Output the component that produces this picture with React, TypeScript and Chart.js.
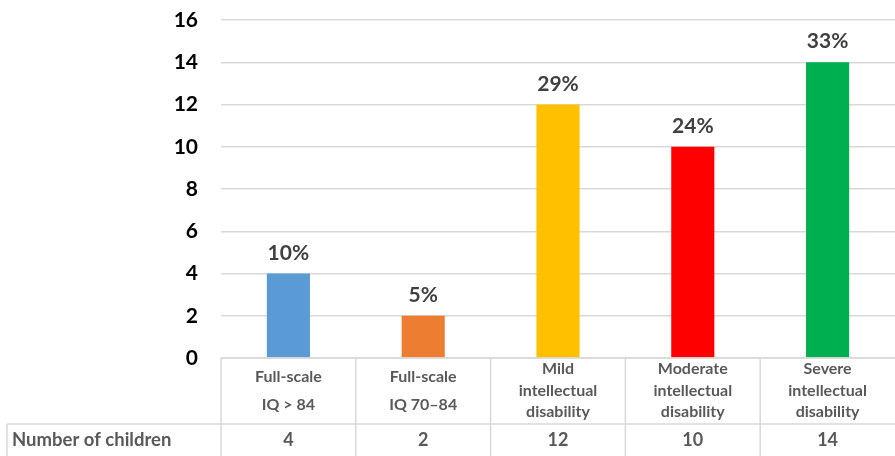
import React, { useEffect, useRef } from "react";
import { Chart, registerables } from "chart.js";

Chart.register(...registerables);

const categories: string[][] = [
  ["Full-scale", "IQ > 84"],
  ["Full-scale", "IQ 70–84"],
  ["Mild", "intellectual", "disability"],
  ["Moderate", "intellectual", "disability"],
  ["Severe", "intellectual", "disability"],
];
const counts: number[] = [4, 2, 12, 10, 14];
const percentLabels: string[] = ["10%", "5%", "29%", "24%", "33%"];
const barColors: string[] = ["#5B9BD5", "#ED7D31", "#FFC000", "#FF0000", "#00B050"];
const rowTitle = "Number of children";
const yTicks: number[] = [0, 2, 4, 6, 8, 10, 12, 14, 16];

const FONT = "Lato, 'Open Sans', sans-serif";

const tablePlugin = {
  id: "tablePlugin",
  afterDatasetsDraw(chart: any) {
    const ctx = chart.ctx;
    const area = chart.chartArea;
    const meta = chart.getDatasetMeta(0);
    // data labels
    ctx.save();
    ctx.fillStyle = "#404040";
    ctx.font = `bold 21px ${FONT}`;
    ctx.textAlign = "center";
    ctx.textBaseline = "alphabetic";
    meta.data.forEach((bar: any, i: number) => {
      ctx.fillText(percentLabels[i], bar.x, bar.y - 14);
    });
    ctx.restore();

    // table
    const xs = chart.scales.x;
    const n = categories.length;
    const catW = (area.right - area.left) / n;
    const top = area.bottom;
    const midY = top + 66;
    const bottom = chart.height;
    ctx.save();
    ctx.strokeStyle = "#D9D9D9";
    ctx.lineWidth = 1.5;
    ctx.beginPath();
    ctx.moveTo(area.left, top);
    ctx.lineTo(area.right, top);
    ctx.moveTo(7, midY);
    ctx.lineTo(area.right, midY);
    ctx.moveTo(7, midY);
    ctx.lineTo(7, bottom);
    for (let i = 0; i < n; i++) {
      const x = area.left + i * catW;
      ctx.moveTo(x, top);
      ctx.lineTo(x, bottom);
    }
    ctx.stroke();

    ctx.fillStyle = "#595959";
    ctx.textAlign = "center";
    ctx.textBaseline = "middle";
    categories.forEach((lines, i) => {
      const cx = xs.getPixelForValue(i);
      const offsets = lines.length === 3 ? [11, 33, 54] : [19, 47];
      ctx.font = `bold 16px ${FONT}`;
      lines.forEach((l, j) => ctx.fillText(l, cx, top + offsets[j]));
      ctx.font = `bold 18px ${FONT}`;
      ctx.fillText(String(counts[i]), cx, midY + 16);
    });
    ctx.textAlign = "left";
    ctx.font = `bold 18.5px ${FONT}`;
    ctx.fillText(rowTitle, 12, midY + 16);
    ctx.restore();
  },
};

export default function App() {
  const ref = useRef<HTMLCanvasElement>(null);
  useEffect(() => {
    document.body.style.margin = "0";
    const chart = new Chart(ref.current!, {
      type: "bar",
      data: {
        labels: categories.map((c) => c.join(" ")),
        datasets: [
          {
            data: counts,
            backgroundColor: barColors,
            barPercentage: 0.32,
            categoryPercentage: 1,
          },
        ],
      },
      options: {
        responsive: false,
        animation: false,
        layout: { padding: { top: 20, bottom: 98, left: 0, right: 0 } },
        plugins: {
          legend: { display: false },
          title: { display: false },
          tooltip: { enabled: false },
        },
        scales: {
          x: { display: false },
          y: {
            min: 0,
            max: 16,
            afterFit: (s: any) => {
              s.width = 221;
              s.paddingTop = 0;
              s.paddingBottom = 0;
            },
            afterBuildTicks: (s: any) => {
              s.ticks = yTicks.map((v) => ({ value: v }));
            },
            border: { display: false },
            grid: { color: "#D9D9D9", lineWidth: 1.5, drawTicks: false },
            ticks: {
              color: "#000000",
              padding: 23,
              font: { family: FONT, size: 21, weight: "bold" },
            },
          },
        },
      },
      plugins: [tablePlugin],
    });
    return () => chart.destroy();
  }, []);
  return <canvas ref={ref} width={895} height={456} style={{ display: "block" }} />;
}
